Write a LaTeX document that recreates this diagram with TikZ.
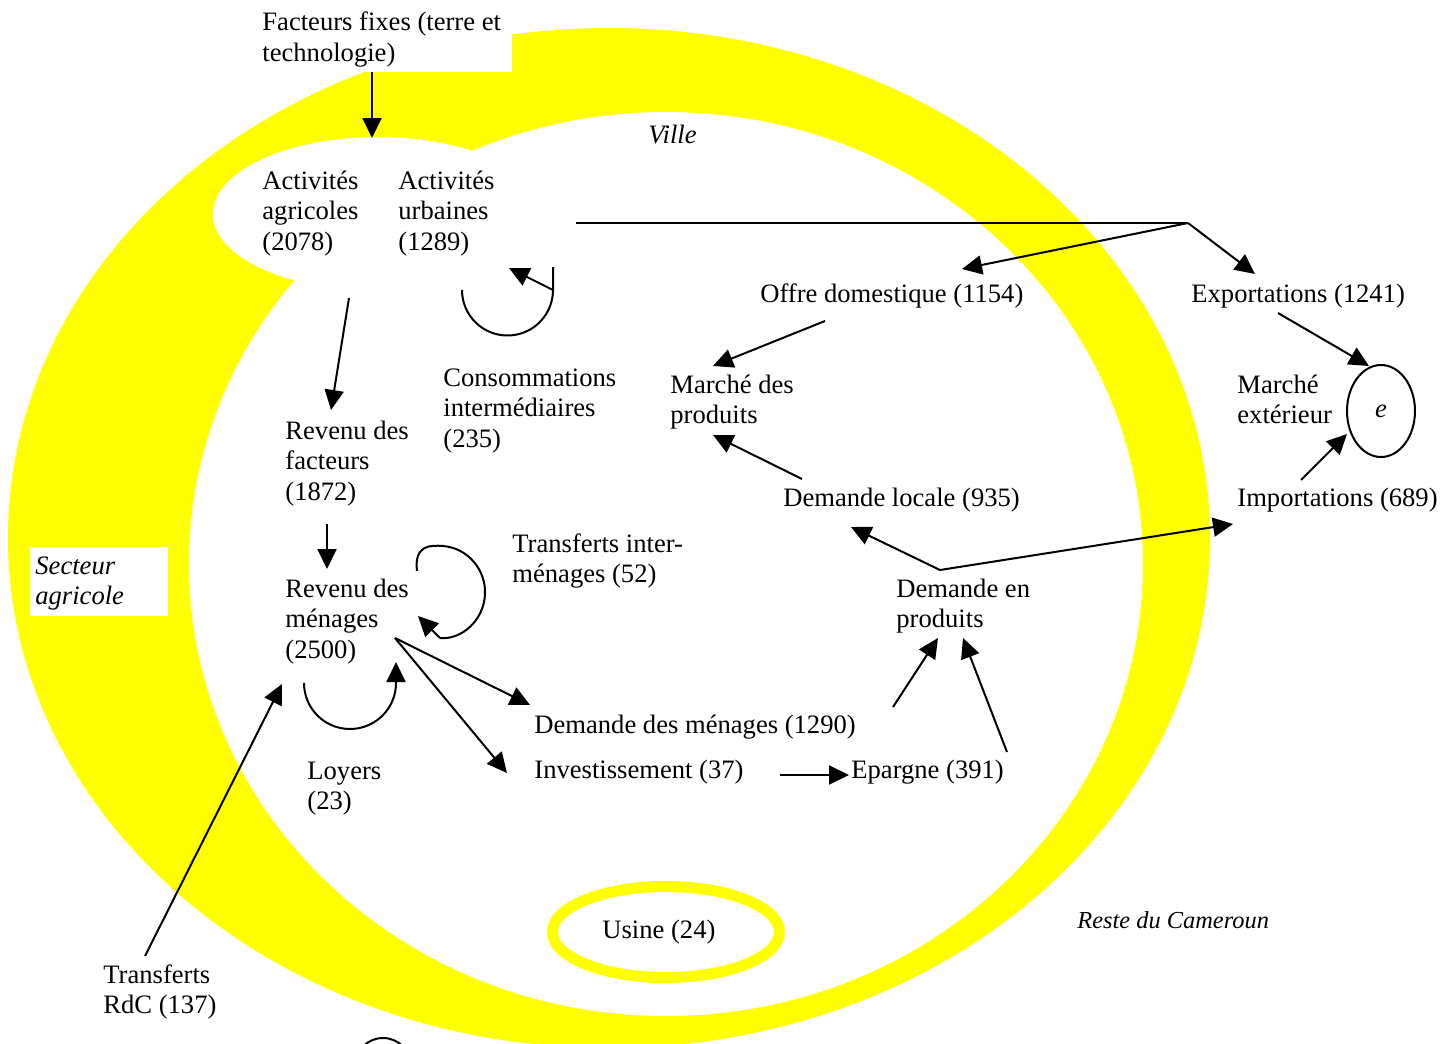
\documentclass[tikz,border=0pt]{standalone}
\usepackage{fontspec}
\setmainfont{Liberation Serif}
\usetikzlibrary{arrows.meta,shapes.geometric}
\definecolor{zoneyellow}{RGB}{255,255,0}
\newcommand{\mlines}[1]{\begin{tabular}[t]{@{}l@{}}#1\end{tabular}}
\begin{document}
\begin{tikzpicture}[x=0.5pt,y=-0.5pt,
  lbl/.style={anchor=base west, inner sep=0pt, font=\fontsize{13.3}{15.4}\selectfont},
  ilbl/.style={anchor=base west, inner sep=0pt, font=\fontsize{13.3}{15.4}\selectfont\itshape},
  flow/.style={line width=1pt, -{Triangle[length=10pt,width=9.5pt]}},
  plainline/.style={line width=1pt},
]
\useasboundingbox (0,0) rectangle (1453,1044);
\fill[white] (0,0) rectangle (1453,1044);
% yellow zones
\fill[zoneyellow] (609,538) ellipse[x radius=601, y radius=510];
\fill[white] (666,564) ellipse[x radius=477, y radius=452];
\fill[white] (378,214) ellipse[x radius=165, y radius=77];
\fill[white] (255,0) rectangle (512,72);
\fill[white] (30,547) rectangle (168,616);
\draw[zoneyellow, line width=5.5pt] (666,932) ellipse[x radius=113.5, y radius=45.5];
\begin{scope}
\clip (0,0) rectangle (1453,1044);
\draw[plainline] (383,1066) circle[radius=28];
\end{scope}

% labels
\node[lbl] (ff) at (262,31) {\mlines{Facteurs fixes (terre et\\technologie)}};
\node[lbl] (aa) at (262,189) {\mlines{Activités\\agricoles\\(2078)}};
\node[lbl] (au) at (398,189) {\mlines{Activités\\urbaines\\(1289)}};
\node[ilbl] (ville) at (648,143) {Ville};
\node[lbl] (od) at (760,302) {Offre domestique (1154)};
\node[lbl] (ex) at (1191,302) {Exportations (1241)};
\node[lbl] (ci) at (443,386) {\mlines{Consommations\\intermédiaires\\(235)}};
\node[lbl] (mp) at (670,393) {\mlines{Marché des\\produits}};
\node[lbl] (me) at (1237,393) {\mlines{Marché\\extérieur}};
\node[lbl] (rf) at (285,439) {\mlines{Revenu des\\facteurs\\(1872)}};
\node[lbl] (dl) at (783,506) {Demande locale (935)};
\node[lbl] (im) at (1237,506) {Importations (689)};
\node[ilbl] (sa) at (35,574) {\mlines{Secteur\\agricole}};
\node[lbl] (ti) at (512,552) {\mlines{Transferts inter-\\ménages (52)}};
\node[lbl] (rm) at (285,597) {\mlines{Revenu des\\ménages\\(2500)}};
\node[lbl] (dp) at (896,597) {\mlines{Demande en\\produits}};
\node[lbl] (dm) at (534,733) {Demande des ménages (1290)};
\node[lbl] (inv) at (534,778) {Investissement (37)};
\node[lbl] (ep) at (851,778) {Epargne (391)};
\node[lbl] (loy) at (307,779) {\mlines{Loyers\\(23)}};
\node[lbl] (us) at (602,938) {Usine (24)};
\node[ilbl, font=\fontsize{12.2}{14.5}\selectfont\itshape] (rc) at (1077,928) {Reste du Cameroun};
\node[lbl] (rdc) at (103,983) {\mlines{Transferts\\RdC (137)}};
\node[draw, ellipse, line width=1pt, minimum width=34pt, minimum height=46pt, inner sep=0pt,
      font=\fontsize{13.3}{15.4}\selectfont\itshape] (e) at (1381,411) {e};

% connector end points
\coordinate (ffS) at (372,72);   \coordinate (actT) at (372,138);
\coordinate (auE) at (576,223);  \coordinate (fork1) at (1188,223);
\coordinate (odT) at (962,269);  \coordinate (exT) at (1255,274);
\coordinate (ciA) at (553,267);  \coordinate (ciB) at (553,290); \coordinate (ciT) at (509,268);
\coordinate (aaS) at (349,298);  \coordinate (rfT) at (331,410);
\coordinate (rfS) at (327,524);  \coordinate (rmT) at (327,569);
\coordinate (tiS) at (417,571);  \coordinate (tiE) at (440,638);  \coordinate (tiT) at (418,616);
\coordinate (loyT) at (396,662);
\coordinate (rmO) at (395,638);  \coordinate (dmT) at (530,705); \coordinate (invT) at (507,773);
\coordinate (invS) at (780,775); \coordinate (epT) at (849,775);
\coordinate (dmS) at (893,707);  \coordinate (dpT1) at (938,638);
\coordinate (epS) at (1007,752); \coordinate (dpT2) at (963,638);
\coordinate (dpO) at (940,570);  \coordinate (dlT) at (851,527); \coordinate (imT) at (1233,524);
\coordinate (dlS) at (802,479);  \coordinate (mpT1) at (713,435);
\coordinate (odS) at (825,321);  \coordinate (mpT2) at (713,366);
\coordinate (exS) at (1278,313); \coordinate (eT1) at (1369,366);
\coordinate (imS) at (1301,480); \coordinate (eT2) at (1347,434);
\coordinate (rdcS) at (145,956); \coordinate (rdcT) at (282,684);

% connectors
\draw[flow] (ffS) -- (actT);
\draw[plainline] (auE) -- (fork1);
\draw[flow] (fork1) -- (odT);
\draw[flow] (fork1) -- (exT);
\draw[plainline] (ciA) -- (ciB) -- plot[domain=0:180, samples=40] ({507.5+45.5*cos(\x)},{290+45.5*sin(\x)});
\draw[flow] (ciB) -- (ciT);
\draw[flow] (aaS) -- (rfT);
\draw[flow] (rfS) -- (rmT);
\draw[plainline] (tiS) .. controls (414,545) and (430,545) .. (443,546)
  .. controls (468,548) and (486,570) .. (485,594)
  .. controls (484,620) and (462,640) .. (tiE);
\draw[flow] (tiE) -- (tiT);
\draw[flow] plot[domain=180:0, samples=40] ({350+46*cos(\x)},{683+46*sin(\x)}) -- (loyT);
\draw[flow] (rmO) -- (dmT);
\draw[flow] (rmO) -- (invT);
\draw[flow] (invS) -- (epT);
\draw[flow] (dmS) -- (dpT1);
\draw[flow] (epS) -- (dpT2);
\draw[flow] (dpO) -- (dlT);
\draw[flow] (dpO) -- (imT);
\draw[flow] (dlS) -- (mpT1);
\draw[flow] (odS) -- (mpT2);
\draw[flow] (exS) -- (eT1);
\draw[flow] (imS) -- (eT2);
\draw[flow] (rdcS) -- (rdcT);
\end{tikzpicture}
\end{document}
